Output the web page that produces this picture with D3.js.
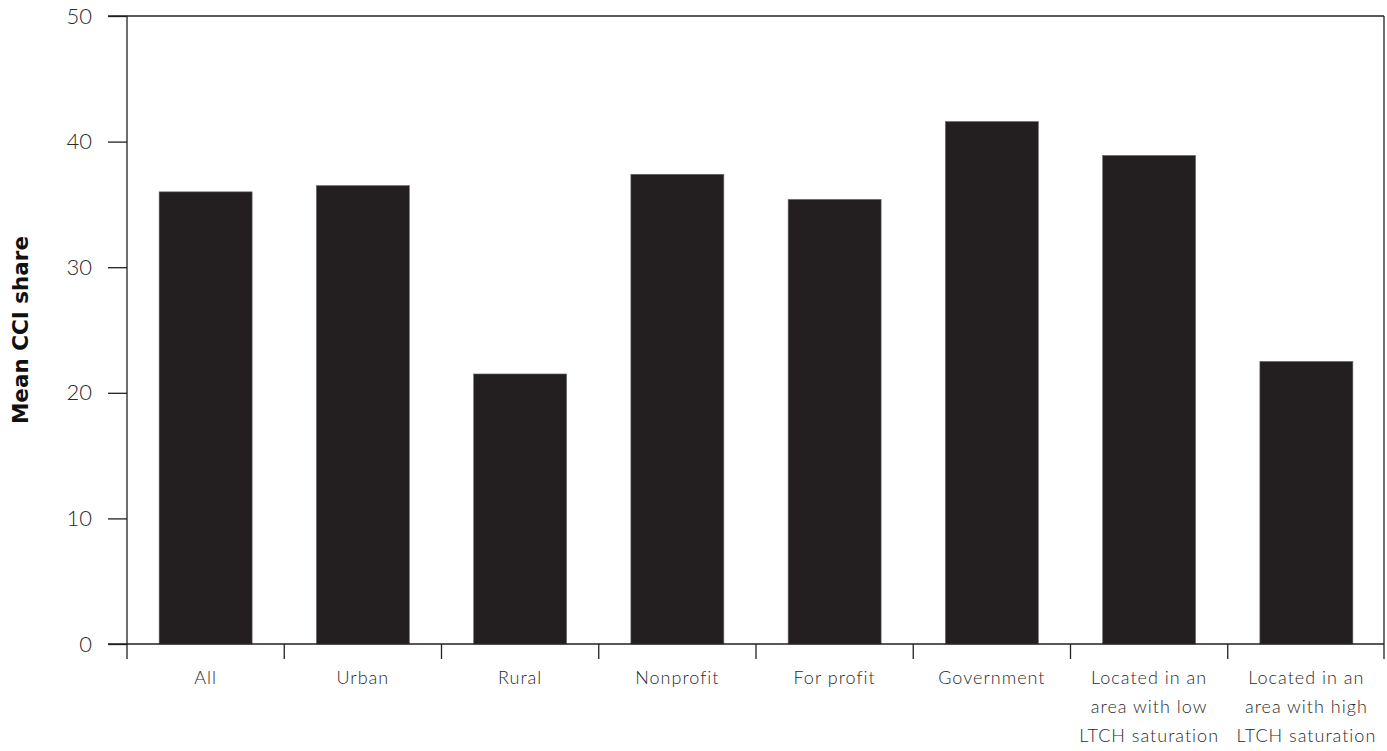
<!DOCTYPE html>
<html>
<head>
<meta charset="utf-8">
<script src="https://cdn.jsdelivr.net/npm/d3@7"></script>
<style>
  html, body { margin: 0; padding: 0; background: #fff; }
  svg { display: block; }
  .lbl { font-family: Lato, "Open Sans", sans-serif; font-weight: 300; fill: #2a2a2a; }
</style>
</head>
<body>
<svg id="chart" width="1387" height="751"></svg>
<script>
const categories = ["All", "Urban", "Rural", "Nonprofit", "For profit", "Government",
  "Located in an|area with low|LTCH saturation", "Located in an|area with high|LTCH saturation"];
const values = [36.0, 36.5, 21.5, 37.4, 35.4, 41.6, 38.9, 22.5];
const yTicks = [0, 10, 20, 30, 40, 50];
const yLabel = "Mean CCI share";

const svg = d3.select("#chart");
const mLeft = 127, mRight = 1385, mTop = 16, mBottom = 644;

const x = d3.scaleBand().domain(categories).range([mLeft, mRight]).padding(0);
const y = d3.scaleLinear().domain([0, 50]).range([mBottom, mTop]);
const barW = 93;

// bars
svg.append("g").selectAll("rect").data(values).join("rect")
  .attr("x", (d, i) => x(categories[i]) + x.bandwidth() / 2 - barW / 2)
  .attr("y", d => y(d))
  .attr("width", barW)
  .attr("height", d => y(0) - y(d))
  .attr("fill", "#231f20")
  .attr("stroke", "#6d6b6b")
  .attr("stroke-width", 0.6);

// frame: top and right
svg.append("line").attr("x1", 108).attr("x2", mRight - 1).attr("y1", y(50)).attr("y2", y(50))
  .attr("stroke", "#231f20").attr("stroke-width", 1.3);
svg.append("line").attr("x1", mRight - 1).attr("x2", mRight - 1).attr("y1", y(50)).attr("y2", mBottom + 15)
  .attr("stroke", "#231f20").attr("stroke-width", 1.3);

// y axis
const yAxis = d3.axisLeft(y).tickValues(yTicks).tickSize(19).tickPadding(16).tickFormat(d3.format("d"));
const gy = svg.append("g").attr("transform", `translate(${mLeft},0)`).call(yAxis);
gy.select(".domain").remove();
gy.append("line").attr("x1", 0).attr("x2", 0).attr("y1", y(50)).attr("y2", mBottom + 15)
  .attr("stroke", "#231f20").attr("stroke-width", 1.3);
gy.selectAll(".tick line").attr("stroke", "#231f20").attr("stroke-width", 1.3);
gy.selectAll(".tick text").attr("class", "lbl").attr("font-size", 22).attr("fill", "#2a2a2a");

// x axis baseline
svg.append("line").attr("x1", 108).attr("x2", mRight - 1).attr("y1", mBottom).attr("y2", mBottom)
  .attr("stroke", "#231f20").attr("stroke-width", 1.3);

// x category boundary ticks
const bounds = categories.map(c => x(c)).concat([mRight]);
svg.append("g").selectAll("line").data(bounds.slice(1, -1)).join("line")
  .attr("x1", d => d).attr("x2", d => d).attr("y1", mBottom).attr("y2", mBottom + 15)
  .attr("stroke", "#231f20").attr("stroke-width", 1.3);

// x labels
const xl = svg.append("g").selectAll("text").data(categories).join("text")
  .attr("class", "lbl")
  .attr("font-size", 18)
  .attr("letter-spacing", 1)
  .attr("text-anchor", "middle")
  .attr("x", d => x(d) + x.bandwidth() / 2)
  .attr("y", mBottom + 40);
xl.each(function(d) {
  const t = d3.select(this);
  const lines = d.split("|");
  lines.forEach((ln, i) => {
    t.append("tspan").attr("x", t.attr("x")).attr("dy", i === 0 ? 0 : 29).text(ln);
  });
});

// y label
svg.append("text")
  .attr("transform", `translate(28, ${(mTop + mBottom) / 2}) rotate(-90)`)
  .attr("text-anchor", "middle")
  .attr("font-family", "'DejaVu Sans', sans-serif")
  .attr("font-weight", 700)
  .attr("font-size", 21.5)
  .attr("fill", "#111")
  .text(yLabel);
</script>
</body>
</html>
